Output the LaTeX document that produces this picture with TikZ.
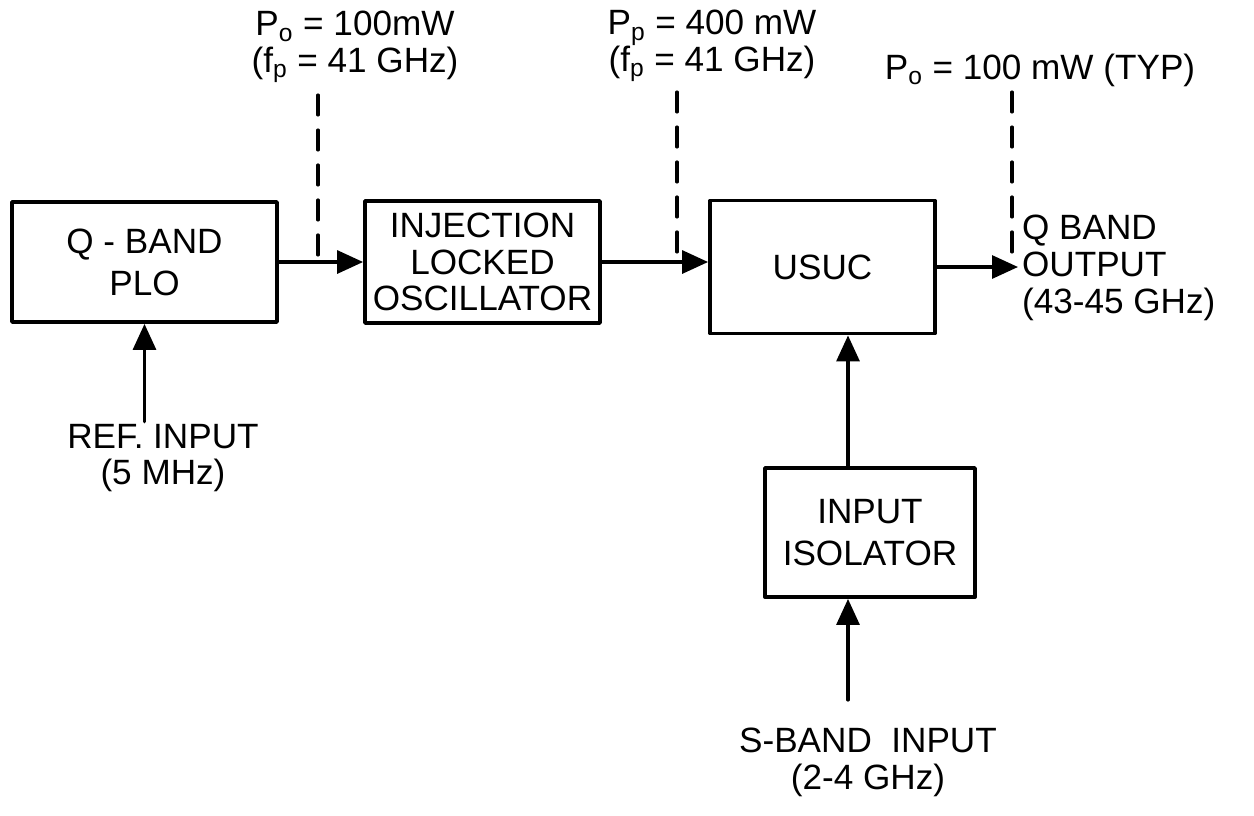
\documentclass[tikz,border=0pt]{standalone}
\usepackage{fontspec}
\setmainfont{Liberation Sans}
\usetikzlibrary{arrows.meta}
\begin{document}
\begin{tikzpicture}[x=0.02cm, y=-0.02cm, line cap=round, line join=round,
	>={Triangle[length=0.52cm, width=0.46cm]},
	box/.style={draw, line width=2.2pt, align=center, inner sep=0pt,
		font=\fontsize{20}{24}\selectfont},
	sig/.style={->, line width=1.8pt},
	tap/.style={line width=1.8pt, dash pattern=on 0.4cm off 0.3cm},
	lbl/.style={align=center, inner sep=1pt, font=\fontsize{20}{21}\selectfont}]
	
	% Khung hình
	\useasboundingbox (0,0) rectangle (1254,815);
	
	% Các khối
	\node[box, minimum width=5.3cm, minimum height=2.4cm] (plo) at (144.5,262) {Q - BAND\\PLO};
	\node[box, minimum width=4.7cm, minimum height=2.44cm, font=\fontsize{20}{21}\selectfont] (ilo) at (482.5,262) {INJECTION\\LOCKED\\OSCILLATOR};
	\node[box, minimum width=4.5cm, minimum height=2.66cm] (usuc) at (822.5,267) {USUC};
	\node[box, minimum width=4.2cm, minimum height=2.58cm] (iso) at (870,532.5) {INPUT\\ISOLATOR};
	
	% Nhãn vào / ra
	\node[lbl] (ref) at (163,458) {REF. INPUT\\(5 MHz)};
	\node[lbl] (sband) at (868,762) {S-BAND\ \ INPUT\\(2-4 GHz)};
	\node[lbl, align=left, anchor=west] (out) at (1020,268) {Q BAND\\OUTPUT\\(43-45 GHz)};
	
	% Nhãn công suất
	\node[lbl] (pwr1) at (355,47) {P\textsubscript{o} = 100mW\\(f\textsubscript{p} = 41 GHz)};
	\node[lbl] (pwr2) at (712,46) {P\textsubscript{p} = 400 mW\\(f\textsubscript{p} = 41 GHz)};
	\node[lbl] (pwr3) at (1040,70) {P\textsubscript{o} = 100 mW (TYP)};
	
	% Đường tín hiệu
	\draw[sig] (plo) -- (ilo);
	\draw[sig] (ilo.east) -- (usuc.west |- ilo.east);
	\coordinate (qout) at (1018,267);
	\draw[sig] (usuc.east) -- (qout);
	\draw[sig] (plo.south |- ref.north) -- (plo.south);
	\coordinate (sin) at (848,700);
	\draw[sig] (sin) -- (sin |- iso.south);
	\draw[sig] (sin |- iso.north) -- (sin |- usuc.south);
	
	% Các đường đo nét đứt
	\coordinate (t1) at (318,95);
	\coordinate (t2) at (677,92);
	\coordinate (t3) at (1012,92);
	\draw[tap] (t1) -- (t1 |- plo.east);
	\draw[tap] (t2) -- (t2 |- ilo.east);
	\draw[tap] (t3) -- (t3 |- usuc.east);
	
\end{tikzpicture}
\end{document}
